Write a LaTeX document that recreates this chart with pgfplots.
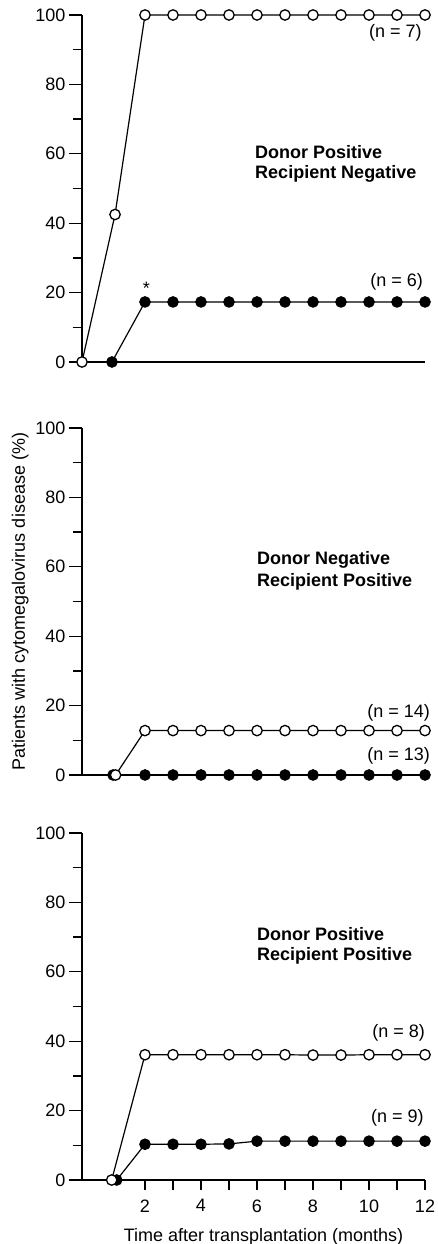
\documentclass[border=0pt]{standalone}
\usepackage{fontspec}
\setmainfont{Liberation Sans}
\usepackage{pgfplots}
\pgfplotsset{compat=1.18}
\newcommand\txt{\fontsize{18}{21}\selectfont}
\pgfplotsset{
 panel/.style={
  scale only axis, width=343pt, height=347pt,
  xmin=-0.25, xmax=12, ymin=0, ymax=100,
  axis lines*=left, axis line style={line width=1.3pt,-},
  clip=false,
  ytick={0,20,...,100}, minor ytick={10,30,...,90},
  tick align=outside, major tick length=13pt, minor tick length=9pt,
  tick style={line width=1.3pt, black},
  /pgf/number format/assume math mode=true,
  tick label style={font=\txt},
  label style={font=\txt},
  every axis plot/.append style={line width=1.2pt, black},
 },
 open/.style={mark=*, mark size=5.2pt, mark options={fill=white, line width=1.3pt}},
 filled/.style={mark=*, mark size=5.2pt, mark options={fill=black}},
}
\begin{document}
\begin{tikzpicture}
\path[use as bounding box] (-82pt,-64pt) rectangle (356pt,1180pt);
% top panel
\begin{axis}[panel, at={(0pt,818pt)}, anchor=south west, xtick=\empty]
\addplot[filled] coordinates {(0.82,0) (2,17.3) (3,17.3) (4,17.3) (5,17.3) (6,17.3) (7,17.3) (8,17.3) (9,17.3) (10,17.3) (11,17.3) (12,17.3)};
\addplot[open] coordinates {(-0.25,0) (0.93,42.5) (2,100) (3,100) (4,100) (5,100) (6,100) (7,100) (8,100) (9,100) (10,100) (11,100) (12,100)};
\node[font=\txt\bfseries, anchor=west, inner sep=0pt] at (axis cs:5.93,60.4) {Donor Positive};
\node[font=\txt\bfseries, anchor=west, inner sep=0pt] at (axis cs:5.93,54.3) {Recipient Negative};
\node[font=\txt, anchor=east, inner sep=0pt] at (axis cs:11.89,94.8) {(n = 7)};
\node[font=\txt, anchor=east, inner sep=0pt] at (axis cs:11.93,23.1) {(n = 6)};
\node[font=\txt, anchor=base, inner sep=0pt] at (axis cs:2.05,19.4) {*};
\end{axis}
% middle panel
\begin{axis}[panel, at={(0pt,405pt)}, anchor=south west, xtick=\empty,
  ylabel={Patients with cytomegalovirus disease (\%)}]
\addplot[filled] coordinates {(0.86,0) (2,0) (3,0) (4,0) (5,0) (6,0) (7,0) (8,0) (9,0) (10,0) (11,0) (12,0)};
\addplot[open] coordinates {(0.95,0) (2,12.8) (3,12.8) (4,12.8) (5,12.8) (6,12.8) (7,12.8) (8,12.8) (9,12.8) (10,12.8) (11,12.8) (12,12.8)};
\node[font=\txt\bfseries, anchor=west, inner sep=0pt] at (axis cs:6.0,62) {Donor Negative};
\node[font=\txt\bfseries, anchor=west, inner sep=0pt] at (axis cs:6.0,55.6) {Recipient Positive};
\node[font=\txt, anchor=east, inner sep=0pt] at (axis cs:12.18,17.9) {(n = 14)};
\node[font=\txt, anchor=east, inner sep=0pt] at (axis cs:12.18,5.5) {(n = 13)};
\end{axis}
% bottom panel
\begin{axis}[panel, at={(0pt,0pt)}, anchor=south west,
  xtick={2,...,12}, xticklabels={2,,4,,6,,8,,10,,12},
  xtick style={/pgfplots/major tick length=10pt},
  xticklabel style={yshift=-3pt},
  xlabel style={yshift=-9pt, xshift=10pt},
  xlabel={Time after transplantation (months)}]
\addplot[filled] coordinates {(0.99,0) (2,10.3) (3,10.3) (4,10.3) (5,10.4) (6,11.2) (7,11.2) (8,11.2) (9,11.2) (10,11.2) (11,11.2) (12,11.2)};
\addplot[open] coordinates {(0.81,0) (2,36.1) (3,36.1) (4,36.1) (5,36.1) (6,36.1) (7,36.1) (8,36.0) (9,36.0) (10,36.1) (11,36.1) (12,36.1)};
\node[font=\txt\bfseries, anchor=west, inner sep=0pt] at (axis cs:6.0,70.8) {Donor Positive};
\node[font=\txt\bfseries, anchor=west, inner sep=0pt] at (axis cs:6.0,64.5) {Recipient Positive};
\node[font=\txt, anchor=east, inner sep=0pt] at (axis cs:12.0,42.4) {(n = 8)};
\node[font=\txt, anchor=east, inner sep=0pt] at (axis cs:11.96,17.8) {(n = 9)};
\end{axis}
\end{tikzpicture}
\end{document}
